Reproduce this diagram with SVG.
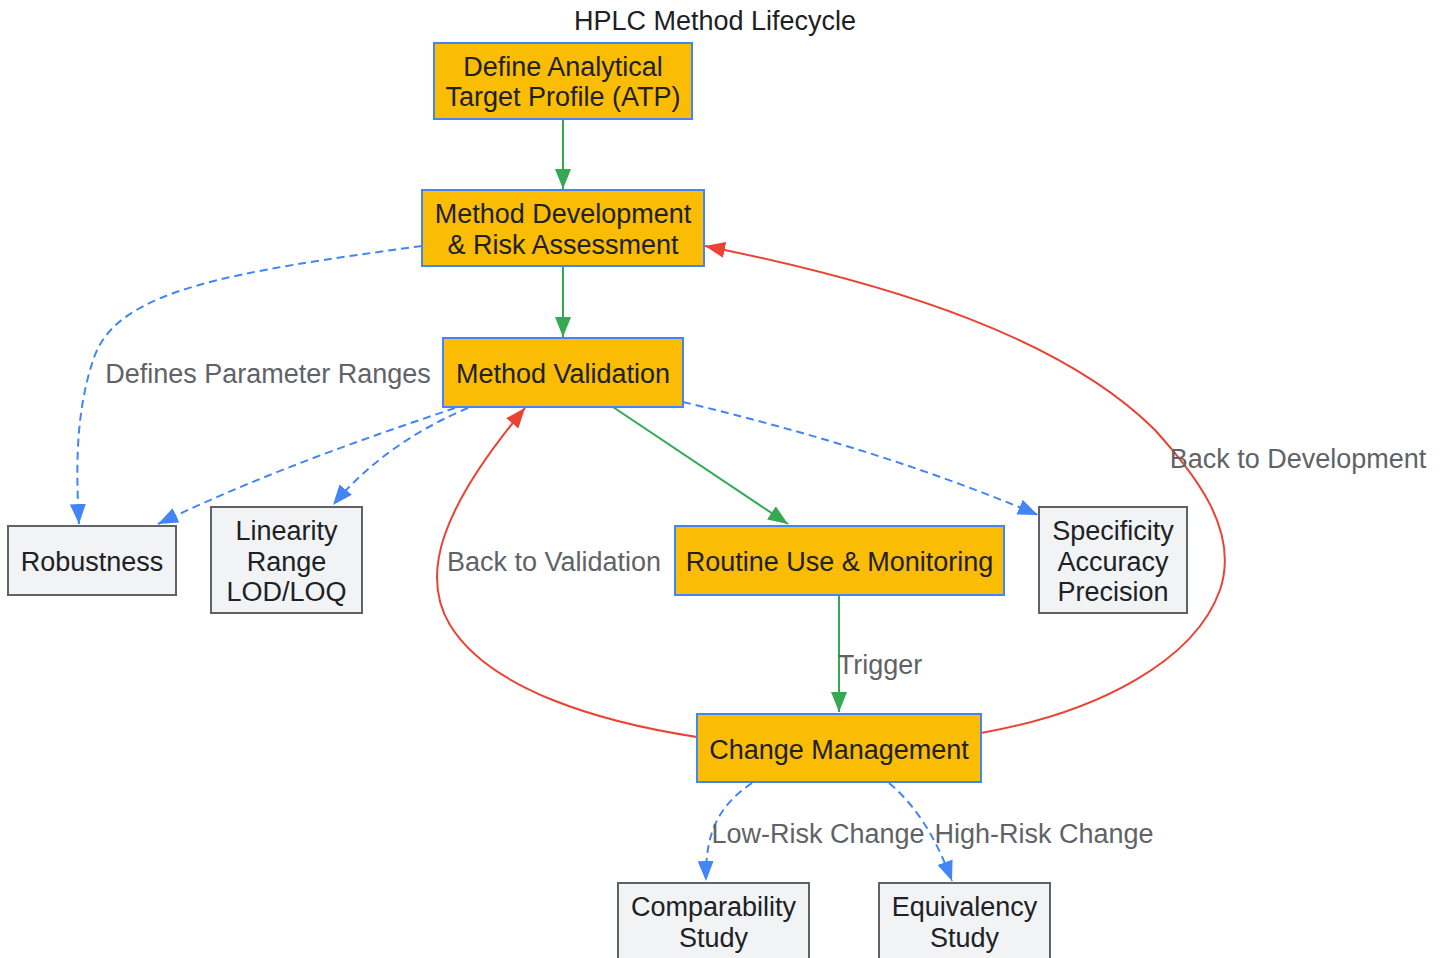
<svg xmlns="http://www.w3.org/2000/svg" width="1447" height="958" viewBox="0 0 1447 958">
<style>
text{font-family:"Liberation Sans",Arial,sans-serif;font-size:27px;text-anchor:middle}
.t{fill:#202124}
.lbl{fill:#5F6368}
.main rect{fill:#FBBC04;stroke:#4285F4;stroke-width:2}
.sub rect{fill:#F1F3F4;stroke:#5F6368;stroke-width:2}
.e{fill:none;stroke-width:2}
.g{stroke:#34A853;marker-end:url(#ag)}
.b{stroke:#4285F4;stroke-dasharray:8 5;marker-end:url(#ab)}
.r{stroke:#EA4335;marker-end:url(#ar)}
</style>
<defs>
<marker id="ag" viewBox="0 0 20 16" refX="20" refY="8" markerWidth="20" markerHeight="16" markerUnits="userSpaceOnUse" orient="auto"><path d="M0,0L20,8L0,16z" fill="#34A853"/></marker>
<marker id="ab" viewBox="0 0 20 16" refX="20" refY="8" markerWidth="20" markerHeight="16" markerUnits="userSpaceOnUse" orient="auto"><path d="M0,0L20,8L0,16z" fill="#4285F4"/></marker>
<marker id="ar" viewBox="0 0 20 16" refX="20" refY="8" markerWidth="20" markerHeight="16" markerUnits="userSpaceOnUse" orient="auto"><path d="M0,0L20,8L0,16z" fill="#EA4335"/></marker>
</defs>
<rect width="1447" height="958" fill="#fff"/>
<text class="t" x="715" y="30">HPLC Method Lifecycle</text>
<g id="connectors">
<path class="e g" d="M563,119L563,189"/>
<path class="e g" d="M563,266L563,337"/>
<path class="e b" d="M422,246C230,272 120,290 95,355C75,410 76,470 79,524"/>
<path class="e b" d="M455,408C360,440 260,475 158,524"/>
<path class="e b" d="M468,408C420,428 370,460 333,505"/>
<path class="e g" d="M613,407L788,524"/>
<path class="e b" d="M683,402C800,430 920,465 1038,515"/>
<path class="e g" d="M839,595L839,712"/>
<path class="e r" d="M697,737C600,722 490,690 450,625C420,575 440,510 525,408"/>
<path class="e r" d="M981,733C1100,712 1195,660 1220,590C1240,530 1195,475 1155,430C1065,340 900,285 705,246"/>
<path class="e b" d="M752,783C720,805 705,830 706,881"/>
<path class="e b" d="M889,783C915,805 935,835 952,881"/>
<text class="lbl" x="268" y="383">Defines Parameter Ranges</text>
<text class="lbl" x="554" y="571">Back to Validation</text>
<text class="lbl" x="1298" y="468">Back to Development</text>
<text class="lbl" x="880" y="674">Trigger</text>
<text class="lbl" x="818" y="843">Low-Risk Change</text>
<text class="lbl" x="1044" y="843">High-Risk Change</text>
</g>
<g id="atp" class="main"><rect x="434" y="43" width="258" height="76"/><text class="t" x="563" y="76">Define Analytical</text><text class="t" x="563" y="106">Target Profile (ATP)</text></g>
<g id="dev" class="main"><rect x="422" y="190" width="282" height="76"/><text class="t" x="563" y="223">Method Development</text><text class="t" x="563" y="254">&amp; Risk Assessment</text></g>
<g id="val" class="main"><rect x="443" y="338" width="240" height="69"/><text class="t" x="563" y="383">Method Validation</text></g>
<g id="rob" class="sub"><rect x="8" y="526" width="168" height="69"/><text class="t" x="92" y="571">Robustness</text></g>
<g id="lin" class="sub"><rect x="211" y="507" width="151" height="106"/><text class="t" x="286.5" y="540">Linearity</text><text class="t" x="286.5" y="571">Range</text><text class="t" x="286.5" y="601">LOD/LOQ</text></g>
<g id="routine" class="main"><rect x="675" y="526" width="329" height="69"/><text class="t" x="839.5" y="571">Routine Use &amp; Monitoring</text></g>
<g id="spec" class="sub"><rect x="1039" y="507" width="148" height="106"/><text class="t" x="1113" y="540">Specificity</text><text class="t" x="1113" y="571">Accuracy</text><text class="t" x="1113" y="601">Precision</text></g>
<g id="change" class="main"><rect x="697" y="714" width="284" height="68"/><text class="t" x="839" y="759">Change Management</text></g>
<g id="comp" class="sub"><rect x="618" y="883" width="191" height="90"/><text class="t" x="713.5" y="916">Comparability</text><text class="t" x="713.5" y="947">Study</text></g>
<g id="equiv" class="sub"><rect x="879" y="883" width="171" height="90"/><text class="t" x="964.5" y="916">Equivalency</text><text class="t" x="964.5" y="947">Study</text></g>
</svg>
